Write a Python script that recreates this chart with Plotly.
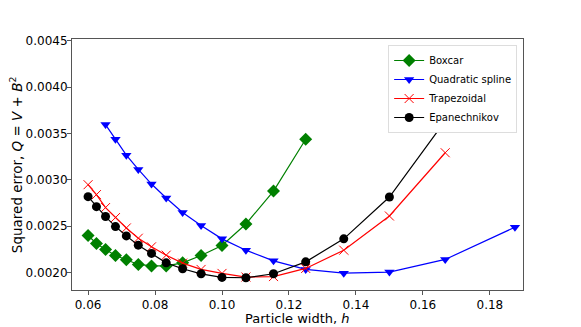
import plotly.graph_objects as go

# particle widths h = 3/N
h_all = [3/50, 3/48, 3/46, 3/44, 3/42, 3/40, 3/38, 3/36, 3/34, 3/32, 3/30,
         3/28, 3/26, 3/24, 3/22, 3/20, 3/18, 3/16]

h_boxcar = h_all[:14]
q_boxcar = [0.002398, 0.002312, 0.002248, 0.002183, 0.002136, 0.002086, 0.002070,
            0.002070, 0.002103, 0.002183, 0.002290, 0.002523, 0.002878, 0.003438]

h_spline = h_all[2:]
q_spline = [0.003596, 0.003438, 0.003266, 0.003112, 0.002954, 0.002803, 0.002646,
            0.002506, 0.002362, 0.002240, 0.002125, 0.002032, 0.001992, 0.002003,
            0.002140, 0.002488]

h_trap = h_all[:17]
q_trap = [0.002947, 0.002840, 0.002700, 0.002592, 0.002480, 0.002369, 0.002276,
          0.002186, 0.002100, 0.002032, 0.001989, 0.001950, 0.001955, 0.002043,
          0.002240, 0.002609, 0.003292]

h_epan = h_all[:17]
q_epan = [0.002818, 0.002710, 0.002603, 0.002495, 0.002394, 0.002294, 0.002205,
          0.002103, 0.002039, 0.001985, 0.001946, 0.001942, 0.001985, 0.002114,
          0.002362, 0.002814, 0.003636]

font = "DejaVu Sans, sans-serif"

fig = go.Figure()
fig.add_trace(go.Scatter(x=h_boxcar, y=q_boxcar, mode="lines+markers", name="Boxcar",
                         line=dict(color="green", width=1.2),
                         marker=dict(symbol="diamond", size=10, color="green")))
fig.add_trace(go.Scatter(x=h_spline, y=q_spline, mode="lines+markers", name="Quadratic spline",
                         line=dict(color="blue", width=1.2),
                         marker=dict(symbol="triangle-down", size=9, color="blue")))
fig.add_trace(go.Scatter(x=h_trap, y=q_trap, mode="lines+markers", name="Trapezoidal",
                         line=dict(color="red", width=1.2),
                         marker=dict(symbol="x-thin-open", size=9, color="red",
                                     line=dict(color="red", width=1))))
fig.add_trace(go.Scatter(x=h_epan, y=q_epan, mode="lines+markers", name="Epanechnikov",
                         line=dict(color="black", width=1.2),
                         marker=dict(symbol="circle", size=9, color="black")))

axis_common = dict(showgrid=False, zeroline=False, showline=True, linecolor="#555",
                   linewidth=1, mirror=True, ticks="outside", ticklen=4,
                   tickcolor="#555", tickfont=dict(size=12, color="black", family=font),
                   automargin=False)

# page body has an 8px margin, so the figure is a bit smaller than the window
fig.update_layout(
    width=573, height=319,
    margin=dict(l=64, r=58, t=31, b=37),
    paper_bgcolor="white", plot_bgcolor="white",
    font=dict(family=font, color="black"),
    xaxis=dict(range=[0.0552, 0.1899], tickvals=[0.06, 0.08, 0.10, 0.12, 0.14, 0.16, 0.18],
               tickformat=".2f", **axis_common),
    yaxis=dict(range=[0.00181, 0.00452], tickvals=[0.0020, 0.0025, 0.0030, 0.0035, 0.0040, 0.0045],
               tickformat=".4f", ticklabelstandoff=-3, **axis_common),
    legend=dict(x=0.987, y=0.976, xanchor="right", yanchor="top",
                bgcolor="white", bordercolor="#ddd", borderwidth=1,
                font=dict(size=10, family=font), tracegroupgap=0, itemwidth=30),
    showlegend=True,
    annotations=[
        dict(text="Particle width, <i>h</i>", xref="paper", yref="paper",
             x=0.5, y=-0.115, xanchor="center", yanchor="middle",
             showarrow=False, font=dict(size=13, family=font)),
        dict(text="Squared error, <i>Q</i> = <i>V</i> + <i>B</i><sup>2</sup>",
             xref="paper", yref="paper", x=-0.125, y=0.5, textangle=-90,
             xanchor="center", yanchor="middle",
             showarrow=False, font=dict(size=13.5, family=font)),
    ],
)

fig.write_html("out.html")
